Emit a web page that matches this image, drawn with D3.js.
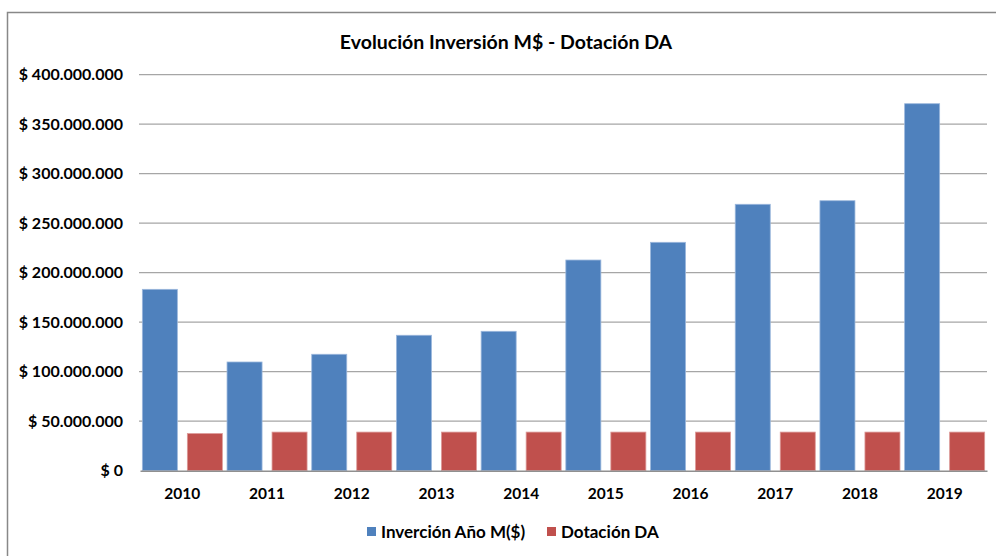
<!DOCTYPE html>
<html>
<head>
<meta charset="utf-8">
<script src="https://cdn.jsdelivr.net/npm/d3@7"></script>
<style>
  body { margin: 0; background: #fff; }
  text { font-family: Lato, "Open Sans", sans-serif; font-weight: bold; fill: #000; }
</style>
</head>
<body>
<div id="chart"></div>
<script>
// data
var years = ["2010", "2011", "2012", "2013", "2014", "2015", "2016", "2017", "2018", "2019"];
var inversion = [183200000, 109800000, 117600000, 136800000, 140800000, 212800000, 230700000, 269100000, 272700000, 370700000];
var dotacion = [37500000, 39000000, 39000000, 39000000, 39000000, 39000000, 39000000, 39000000, 39000000, 39000000];
var seriesNames = ["Inverción Año M($)", "Dotación DA"];
var yTicks = [0, 50000000, 100000000, 150000000, 200000000, 250000000, 300000000, 350000000, 400000000];

var W = 996, H = 556;
var margin = { top: 74.7, right: 9, bottom: 85.3, left: 140 },
    width = W - margin.left - margin.right,
    height = H - margin.top - margin.bottom;

var colors = ["#4f81bd", "#c0504d"];

var locale = d3.formatLocale({ decimal: ",", thousands: ".", grouping: [3], currency: ["$ ", ""] });
var fmt = locale.format("$,.0f");

var root = d3.select("#chart").append("svg")
  .attr("width", W)
  .attr("height", H);

// chart frame
root.append("rect")
  .attr("x", 7.5).attr("y", 12.5)
  .attr("width", 1010).attr("height", 560)
  .attr("fill", "none")
  .attr("stroke", "#888")
  .attr("stroke-width", 1.5);

root.append("text")
  .attr("x", 506)
  .attr("y", 49)
  .attr("text-anchor", "middle")
  .style("font-size", "19.5px")
  .text("Evolución Inversión M$ - Dotación DA");

var svg = root.append("g")
  .attr("transform", "translate(" + margin.left + "," + margin.top + ")");

var x0 = d3.scaleBand().domain(years).range([0, width]).paddingInner(0).paddingOuter(0);
var x1 = d3.scaleBand().domain([0, 1]).range([0, x0.bandwidth()]).paddingInner(0.222).paddingOuter(0.052);
var y = d3.scaleLinear().domain([0, 400000000]).range([height, 0]);

// gridlines
svg.append("g")
  .selectAll("line")
  .data(yTicks.slice(1))
  .enter().append("line")
  .attr("x1", -1).attr("x2", width)
  .attr("y1", function(d) { return y(d); })
  .attr("y2", function(d) { return y(d); })
  .attr("stroke", "#a6a6a6")
  .attr("stroke-width", 1.3);

// y labels
var yAxis = svg.append("g")
  .call(d3.axisLeft(y).tickValues(yTicks).tickFormat(fmt).tickSize(0).tickPadding(17));
yAxis.select(".domain").remove();
yAxis.selectAll("text").style("font-size", "16px").style("font-family", null);

var rows = years.map(function(yr, i) { return [inversion[i], dotacion[i]]; });

var groups = svg.selectAll(".grp")
  .data(rows)
  .enter().append("g")
  .attr("class", "grp")
  .attr("transform", function(d, i) { return "translate(" + x0(years[i]) + ",0)"; });

groups.selectAll("rect")
  .data(function(d) { return d; })
  .enter().append("rect")
  .attr("x", function(d, j) { return x1(j); })
  .attr("width", x1.bandwidth())
  .attr("y", function(d) { return y(d); })
  .attr("height", function(d) { return height - y(d); })
  .attr("fill", function(d, j) { return colors[j]; })
  .attr("stroke", function(d, j) { return j === 0 ? "#9bb7dc" : "#dc9a98"; })
  .attr("stroke-width", 0.8);

// x axis
var xAxis = svg.append("g")
  .attr("transform", "translate(0," + height + ")")
  .call(d3.axisBottom(x0).tickSize(0).tickPadding(17));
xAxis.select(".domain").attr("stroke", "#909090").attr("stroke-width", 1.5);
xAxis.selectAll("text").style("font-size", "15.5px").style("font-family", null);

// legend
var legend = root.append("g").attr("transform", "translate(367,532)");
var lx = [0, 180];
seriesNames.forEach(function(name, i) {
  legend.append("rect")
    .attr("x", lx[i]).attr("y", -5)
    .attr("width", 9).attr("height", 9)
    .attr("fill", colors[i]);
  legend.append("text")
    .attr("x", lx[i] + 14).attr("y", 0)
    .attr("dy", "0.35em")
    .style("font-size", "17px")
    .text(name);
});
</script>
</body>
</html>
